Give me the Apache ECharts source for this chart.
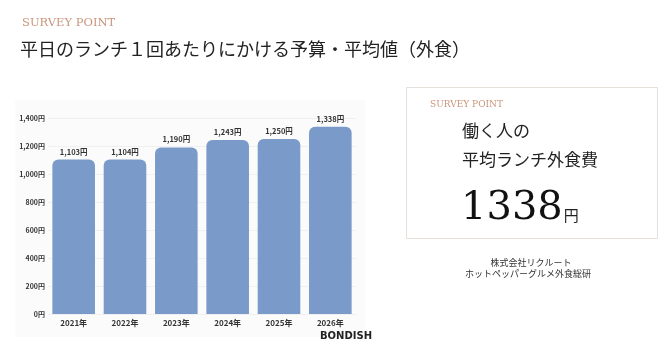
<!DOCTYPE html>
<html><head><meta charset="utf-8">
<script src="https://cdn.jsdelivr.net/npm/echarts@6/dist/echarts.min.js"></script>
<style>html,body{margin:0;padding:0;background:#fff}#c{width:663px;height:354px}</style>
</head><body><div id="c"></div>
<script>
const categories = ['2021年','2022年','2023年','2024年','2025年','2026年'];
const values = [1103, 1104, 1190, 1243, 1250, 1338];
const yTicks = [0, 200, 400, 600, 800, 1000, 1200, 1400];

const fmt = v => v.toLocaleString('en-US') + '円';
const serif = '"DejaVu Serif", "Liberation Serif", serif';
const jp = '"Noto Sans CJK JP", sans-serif';

const chart = echarts.init(document.getElementById('c'));
chart.setOption({
  animation: false,
  grid: { left: 48, right: 307, top: 118, bottom: 40 },
  xAxis: {
    type: 'category', data: categories,
    axisLine: { show: false }, axisTick: { show: false },
    axisLabel: { color: '#333', fontSize: 8, fontWeight: 'bold', fontFamily: jp, margin: 5 }
  },
  yAxis: {
    type: 'value', min: yTicks[0], max: yTicks[yTicks.length-1], interval: 200,
    axisLine: { show: false }, axisTick: { show: false },
    axisLabel: { color: '#333', fontSize: 7, fontWeight: 'bold', fontFamily: jp, margin: 3, formatter: fmt },
    splitLine: { lineStyle: { color: '#f0f0f0', width: 1 } }
  },
  series: [{
    type: 'bar', data: values, barCategoryGap: '17%',
    itemStyle: { color: '#7a9bc9', borderRadius: [6, 6, 0, 0] },
    label: { show: true, position: 'top', distance: 4, color: '#333', fontSize: 7.5, fontWeight: 'bold', fontFamily: jp, formatter: p => fmt(p.value) }
  }],
  graphic: [
    { type: 'rect', z: -10, shape: { x: 15, y: 100, width: 350, height: 237 }, style: { fill: '#fbfbfb' } },
    { type: 'text', left: 22, top: 17, style: { text: 'SURVEY POINT', fill: '#c9957b', font: '11.5px ' + serif } },
    { type: 'text', left: 20, top: 40, style: { text: '平日のランチ１回あたりにかける予算・平均値（外食）', fill: '#222', font: '18px ' + jp, letterSpacing: 0.5 } },
    { type: 'rect', shape: { x: 406.5, y: 87.5, width: 251, height: 151 }, style: { fill: '#fff', stroke: '#e6e0da', lineWidth: 1 } },
    { type: 'text', left: 430, top: 100, style: { text: 'SURVEY POINT', fill: '#c9957b', font: '9px ' + serif } },
    { type: 'text', left: 462, top: 122, style: { text: '働く人の', fill: '#222', font: '17px ' + jp } },
    { type: 'text', left: 462, top: 151, style: { text: '平均ランチ外食費', fill: '#222', font: '17px ' + jp } },
    { type: 'text', left: 461, top: 189, style: { rich: { a: { font: '40px ' + serif, fill: '#111' }, b: { font: '15px ' + jp, fill: '#222', padding: [13, 0, 0, 1] } }, text: '{a|1338}{b|円}' } },
    { type: 'text', x: 531, y: 258, style: { text: '株式会社リクルート', fill: '#333', font: '9px ' + jp, align: 'center' } },
    { type: 'text', x: 528, y: 269, style: { text: 'ホットペッパーグルメ外食総研', fill: '#333', font: '9px ' + jp, align: 'center' } },
    { type: 'text', left: 320, top: 331, style: { text: 'BONDISH', fill: '#222', font: 'bold 10px "DejaVu Sans", sans-serif' } }
  ]
});
</script></body></html>
